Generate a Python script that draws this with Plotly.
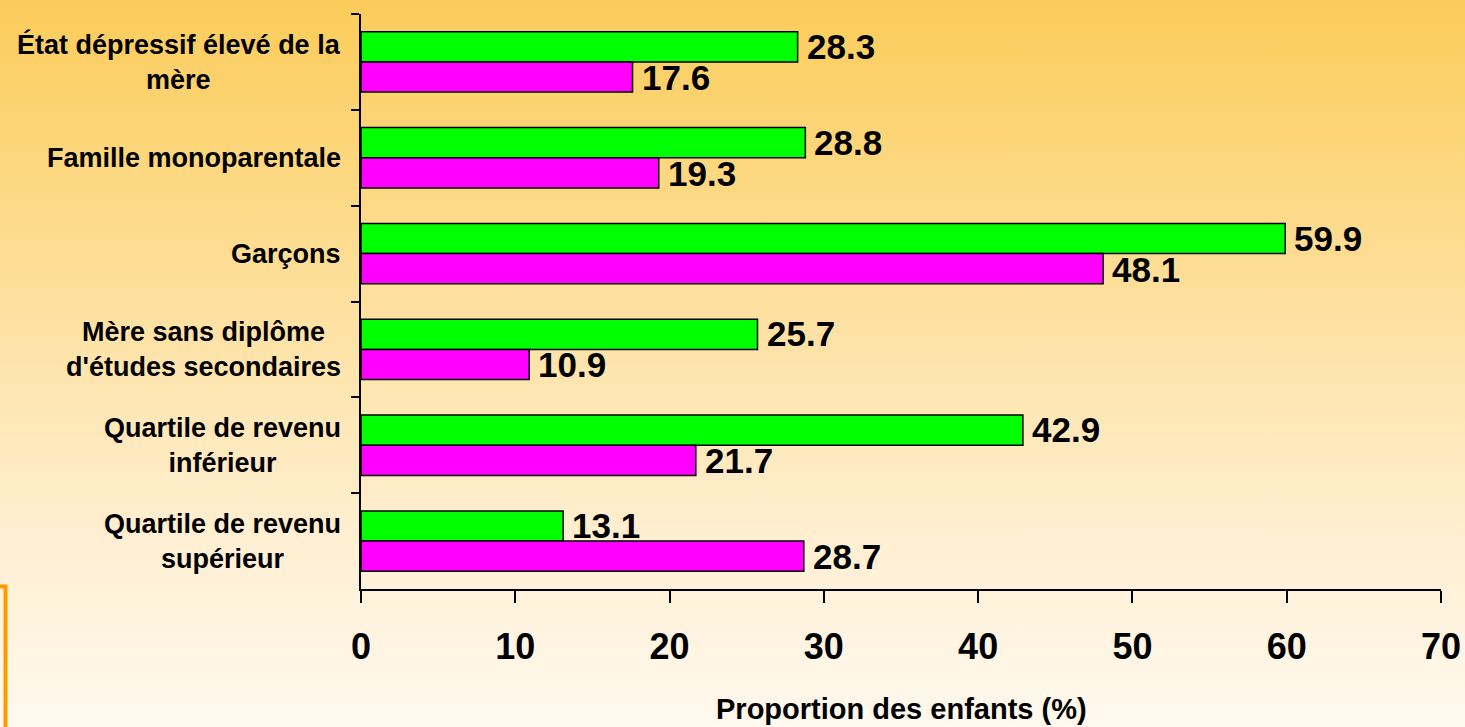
import base64
import plotly.graph_objects as go

# Categories (top to bottom) and the two series, in percent
categories = [
    "État dépressif élevé de la<br>mère",
    "Famille monoparentale",
    "Garçons",
    "Mère sans diplôme<br>d'études secondaires",
    "Quartile de revenu<br>inférieur",
    "Quartile de revenu<br>supérieur",
]
cat_keys = ["c1", "c2", "c3", "c4", "c5", "c6"]
series_green = [28.3, 28.8, 59.9, 25.7, 42.9, 13.1]
series_magenta = [17.6, 19.3, 48.1, 10.9, 21.7, 28.7]
x_ticks = [0, 10, 20, 30, 40, 50, 60, 70]

W, H = 1465, 727
ML, MR, MT, MB = 361, 24, 14, 138
PW, PH = W - ML - MR, H - MT - MB

FONT = "Liberation Sans, Arial, sans-serif"

fig = go.Figure()
fig.add_trace(go.Bar(
    y=cat_keys, x=series_green, orientation="h", name="g",
    marker=dict(color="#00FF00", line=dict(color="#000000", width=1.5)),
    hoverinfo="x",
))
fig.add_trace(go.Bar(
    y=cat_keys, x=series_magenta, orientation="h", name="m",
    marker=dict(color="#FF00FF", line=dict(color="#000000", width=1.5)),
    hoverinfo="x",
))

annotations = []
# value labels at the end of each bar
for key, gv, mv in zip(cat_keys, series_green, series_magenta):
    for val, shift in ((gv, 15.5), (mv, -15.5)):
        annotations.append(dict(
            x=val, y=key, xref="x", yref="y", text=f"<b>{val:.1f}</b>",
            showarrow=False, xanchor="left", yanchor="middle",
            xshift=7, yshift=shift,
            font=dict(family=FONT, size=35, color="#000000"),
        ))
# centred, multi-line category labels
for key, label in zip(cat_keys, categories):
    annotations.append(dict(
        x=0, y=key, xref="paper", yref="y", text=f"<b>{label}</b>",
        showarrow=False, xanchor="right", yanchor="middle", align="center",
        xshift=-18,
        font=dict(family=FONT, size=27, color="#000000"),
    ))
# x-axis title
annotations.append(dict(
    x=0.5, y=0, xref="paper", yref="paper",
    text="<b>Proportion des enfants (%)</b>", showarrow=False,
    xanchor="center", yanchor="middle", yshift=-120,
    font=dict(family=FONT, size=29, color="#000000"),
))

# vertical background gradient
svg = (
    f"<svg xmlns='http://www.w3.org/2000/svg' width='{W}' height='{H}' "
    f"viewBox='0 0 {W} {H}' preserveAspectRatio='none'>"
    "<defs><linearGradient id='g' x1='0' y1='0' x2='0' y2='1'>"
    "<stop offset='0' stop-color='#FBCC5A'/>"
    "<stop offset='0.25' stop-color='#FDD882'/>"
    "<stop offset='0.5' stop-color='#FEE4AC'/>"
    "<stop offset='0.75' stop-color='#FFEFD3'/>"
    "<stop offset='1' stop-color='#FFF9EE'/>"
    "</linearGradient></defs>"
    f"<rect x='0' y='0' width='{W}' height='{H}' fill='url(#g)'/></svg>"
)
bg_src = "data:image/svg+xml;base64," + base64.b64encode(svg.encode()).decode()

fig.update_layout(
    width=W, height=H,
    margin=dict(l=ML, r=MR, t=MT, b=MB, autoexpand=False),
    paper_bgcolor="rgba(0,0,0,0)", plot_bgcolor="rgba(0,0,0,0)",
    barmode="group", bargap=0.37, bargroupgap=0,
    showlegend=False,
    annotations=annotations,
    images=[dict(
        source=bg_src, xref="paper", yref="paper",
        x=-ML / PW, y=1 + MT / PH, sizex=W / PW, sizey=H / PH,
        xanchor="left", yanchor="top", sizing="stretch", layer="below",
    )],
    shapes=[dict(
        type="rect", xref="paper", yref="paper",
        x0=(-60 - ML) / PW, x1=(5.5 - ML) / PW,
        y0=-0.4, y1=2.5 / PH,
        line=dict(color="#FF9900", width=4), fillcolor="rgba(0,0,0,0)",
    )],
)

fig.update_xaxes(
    range=[0, 70], tickvals=x_ticks, ticktext=[f"<b>{t}</b>" for t in x_ticks],
    showgrid=False, zeroline=False,
    showline=True, linecolor="#000000", linewidth=2,
    ticks="outside", ticklen=12, tickwidth=2, tickcolor="#000000",
    tickfont=dict(family=FONT, size=36, color="#000000"),
    ticklabelstandoff=13,
    fixedrange=True,
)
fig.update_yaxes(
    categoryorder="array", categoryarray=cat_keys, autorange="reversed",
    showticklabels=False, showgrid=False, zeroline=False,
    showline=True, linecolor="#000000", linewidth=2,
    ticks="outside", tickson="boundaries", ticklen=8, tickwidth=2,
    tickcolor="#000000",
    fixedrange=True,
)

fig.write_html("out.html")
